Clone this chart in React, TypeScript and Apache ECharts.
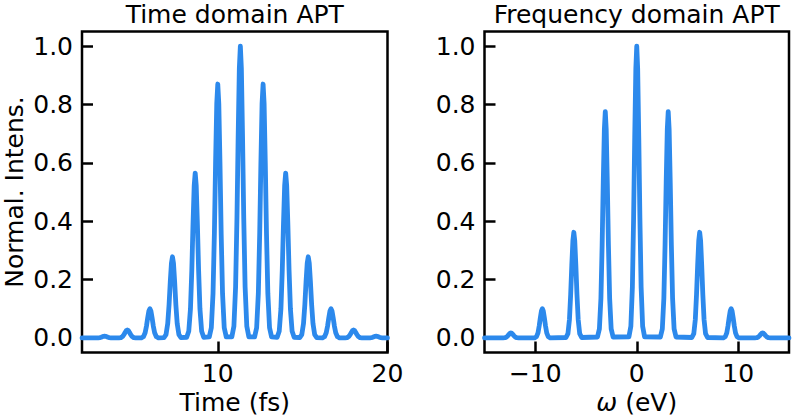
import React, { useEffect, useRef } from "react";
import * as echarts from "echarts";

// Time-domain attosecond pulse train: peak centres (fs) and normalised heights
const timeCenters = [3.33, 4.67, 6.0, 7.33, 8.67, 10.0, 11.33, 12.67, 14.0, 15.33, 16.67, 18.0, 19.33];
const timeHeights = [0.006, 0.027, 0.1, 0.278, 0.565, 0.87, 1.0, 0.87, 0.565, 0.278, 0.1, 0.027, 0.006];
// Frequency-domain harmonic comb: peak centres (eV) and normalised heights
const freqCenters = [-12.4, -9.3, -6.2, -3.1, 0, 3.1, 6.2, 9.3, 12.4];
const freqHeights = [0.017, 0.1, 0.362, 0.775, 1.0, 0.775, 0.362, 0.1, 0.017];
// shape of one peak (relative height at each offset)
const peakShape = [0.004, 0.04, 0.175, 0.411, 0.687, 0.923, 1, 0.923, 0.687, 0.411, 0.175, 0.04, 0.004];
const timeShapeOffsets = [-0.5, -0.38, -0.28, -0.2, -0.13, -0.06, 0, 0.06, 0.13, 0.2, 0.28, 0.38, 0.5];
const freqShapeOffsets = [-0.77, -0.58, -0.43, -0.31, -0.2, -0.09, 0, 0.09, 0.2, 0.31, 0.43, 0.58, 0.77];

const timeRange = [2, 20];
const freqRange = [-15, 15];
const yRange = [-0.05, 1.05];
const timeTicks = [10, 20];
const freqTicks = [-10, 0, 10];
const yTicks = [0, 0.2, 0.4, 0.6, 0.8, 1.0];

const titles = ["Time domain APT", "Frequency domain APT"];
const yName = "Normal. Intens.";
const timeName = "Time (fs)";

function buildSeries(centers: number[], heights: number[], offsets: number[], range: number[]) {
  const pts: number[][] = [[range[0], 0]];
  centers.forEach((c, i) => {
    offsets.forEach((o, j) => {
      pts.push([c + o, heights[i] * peakShape[j]]);
    });
  });
  pts.push([range[1], 0]);
  return pts;
}

const FONT = '"DejaVu Sans", sans-serif';
const TICK_FS = 25;
const NAME_FS = 25;
const TITLE_FS = 25;
const BLUE = "#2C89EC";

export default function App() {
  const ref = useRef<HTMLDivElement>(null);
  useEffect(() => {
    if (!ref.current) return;
    const chart = echarts.init(ref.current, undefined, { renderer: "svg" });
    const grids = [
      { left: 82, top: 31.5, width: 305.5, height: 321 },
      { left: 484.5, top: 31.5, width: 304.5, height: 321 },
    ];
    const tickStyle = { inside: true, length: 11, lineStyle: { color: "#000", width: 2.5 } };
    const labelStyle = { color: "#000", fontSize: TICK_FS, fontFamily: FONT };
    const hiddenLine = { show: false, onZero: false };
    const yAxisDef = (gi: number) => ({
      gridIndex: gi,
      type: "value",
      min: yRange[0],
      max: yRange[1],
      axisLine: hiddenLine,
      splitLine: { show: false },
      axisTick: { ...tickStyle, customValues: yTicks },
      axisLabel: { ...labelStyle, margin: 9, customValues: yTicks, formatter: (v: number) => v.toFixed(1) },
      name: gi === 0 ? yName : "",
      nameLocation: "middle",
      nameGap: 55,
      nameTextStyle: { color: "#000", fontSize: NAME_FS, fontFamily: FONT },
    });
    const option: any = {
      animation: false,
      backgroundColor: "#fff",
      grid: grids.map((g) => ({
        ...g,
        show: true,
        borderColor: "#000",
        borderWidth: 2.5,
        backgroundColor: "transparent",
        containLabel: false,
        outerBoundsMode: "none",
      })),
      xAxis: [
        {
          gridIndex: 0,
          type: "value",
          min: timeRange[0],
          max: timeRange[1],
          axisLine: hiddenLine,
          splitLine: { show: false },
          axisTick: { ...tickStyle, customValues: timeTicks },
          axisLabel: { ...labelStyle, margin: 8, customValues: timeTicks },
          name: timeName,
          nameLocation: "middle",
          nameGap: 35,
          nameTextStyle: { color: "#000", fontSize: NAME_FS, fontFamily: FONT },
        },
        {
          gridIndex: 1,
          type: "value",
          min: freqRange[0],
          max: freqRange[1],
          axisLine: hiddenLine,
          splitLine: { show: false },
          axisTick: { ...tickStyle, customValues: freqTicks },
          axisLabel: {
            ...labelStyle,
            margin: 8,
            customValues: freqTicks,
            formatter: (v: number) => (v < 0 ? "\u2212" + Math.abs(v) : String(v)),
          },
          name: "{i|\u03c9} (eV)",
          nameLocation: "middle",
          nameGap: 35,
          nameTextStyle: {
            color: "#000",
            fontSize: NAME_FS,
            fontFamily: FONT,
            rich: { i: { fontStyle: "italic", fontSize: NAME_FS, fontFamily: FONT, color: "#000" } },
          },
        },
      ],
      yAxis: [yAxisDef(0), yAxisDef(1)],
      graphic: titles.map((t, i) => ({
        type: "text",
        x: grids[i].left + grids[i].width / 2,
        y: 1.5,
        style: {
          text: t,
          fill: "#000",
          font: `${TITLE_FS}px ${FONT}`,
          align: "center",
          verticalAlign: "top",
          textAlign: "center",
          textVerticalAlign: "top",
        },
      })),
      series: [
        {
          type: "line",
          xAxisIndex: 0,
          yAxisIndex: 0,
          data: buildSeries(timeCenters, timeHeights, timeShapeOffsets, timeRange),
          showSymbol: false,
          lineStyle: { color: BLUE, width: 4.8, join: "round", cap: "round" },
          clip: false,
        },
        {
          type: "line",
          xAxisIndex: 1,
          yAxisIndex: 1,
          data: buildSeries(freqCenters, freqHeights, freqShapeOffsets, freqRange),
          showSymbol: false,
          lineStyle: { color: BLUE, width: 4.8, join: "round", cap: "round" },
          clip: false,
        },
      ],
    };
    chart.setOption(option);
    return () => chart.dispose();
  }, []);
  return (
    <div style={{ position: "fixed", left: 0, top: 0, width: 793, height: 417, background: "#fff" }}>
      <div ref={ref} style={{ width: 793, height: 417 }} />
    </div>
  );
}
